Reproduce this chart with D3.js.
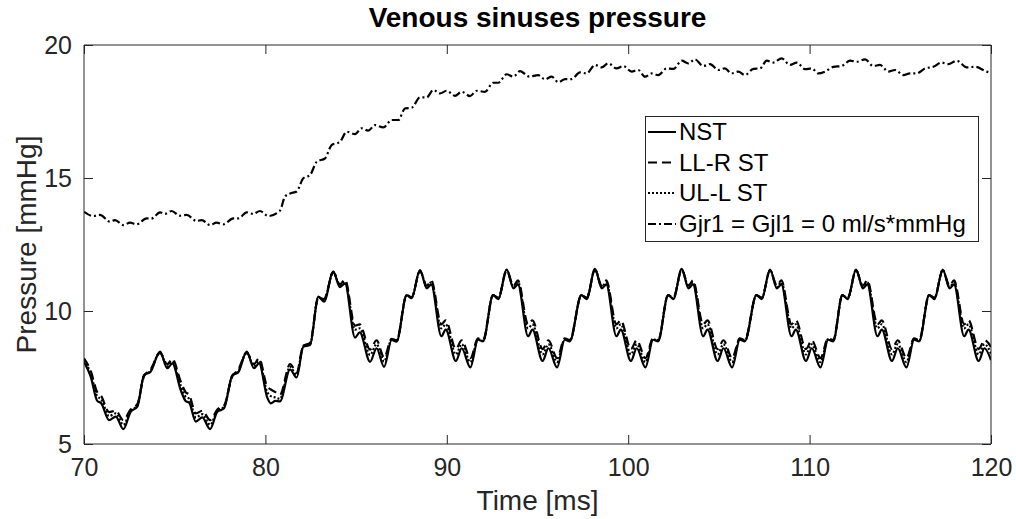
<!DOCTYPE html>
<html><head><meta charset="utf-8">
<script src="https://cdn.jsdelivr.net/npm/d3@7"></script>
<style>body{margin:0;background:#fff}svg{display:block}text{font-family:"Liberation Sans",Arial,sans-serif}</style>
</head><body>
<svg id="c" width="1016" height="519"></svg>
<script>
// ---- data ----
const xTicks = [70, 80, 90, 100, 110, 120];
const yTicks = [5, 10, 15, 20];
const seriesNames = ["NST", "LL-R ST", "UL-L ST", "Gjr1 = Gjl1 = 0 ml/s*mmHg"];

const timeLow = [70.0,70.37,70.73,70.95,71.38,71.75,72.17,72.57,72.94,73.31,73.67,74.19,74.59,74.87,75.33,75.6,75.8,76.16,76.52,76.95,77.35,77.72,78.18,78.49,78.97,79.37,79.65,80.1,80.3,80.55,80.8,81.36,81.72,82.09,82.46,82.92,83.23,83.74,84.11,84.39,84.94,85.2,85.77,86.13,86.54,86.96,87.23,87.79,88.06,88.52,
88.9,89.14,89.7,89.94,90.5,90.82,91.3,91.72,92.0,92.55,92.84,93.3,
93.68,93.92,94.48,94.72,95.28,95.6,96.08,96.5,96.78,97.42,97.71,98.17,
98.55,98.79,99.35,99.59,100.15,100.47,100.95,101.37,101.65,102.2,102.49,102.95,
103.33,103.57,104.13,104.37,104.93,105.25,105.73,106.15,106.43,107.07,107.36,107.82,
108.2,108.44,109.0,109.24,109.8,110.12,110.6,111.02,111.3,111.81,112.1,112.56,
112.94,113.18,113.74,113.98,114.54,114.86,115.34,115.76,116.04,116.59,116.88,117.34,
117.72,117.96,118.52,118.76,119.32,119.64,120.0];

const nst = [8.09,7.53,6.62,6.53,5.9,6.03,5.56,6.21,6.4,7.59,7.72,8.47,7.85,8.03,7.03,6.62,6.55,5.84,6.0,5.56,6.21,6.34,7.59,7.68,8.47,7.85,8.03,6.75,6.53,6.62,6.6,7.8,7.5,8.66,8.72,10.54,10.35,11.48,10.9,11.03,9.0,9.2,8.09,8.6,7.9,8.91,8.85,10.6,10.48,11.54,
10.85,11.0,9.05,9.3,8.12,8.6,7.88,8.92,8.86,10.6,10.45,11.56,
10.85,11.0,9.05,9.3,8.12,8.6,7.88,8.92,8.86,10.6,10.45,11.58,
10.85,11.0,9.05,9.3,8.12,8.6,7.88,8.92,8.86,10.6,10.45,11.58,
10.85,11.0,9.05,9.3,8.12,8.6,7.88,8.92,8.86,10.6,10.45,11.56,
10.85,11.0,9.05,9.3,8.12,8.6,7.88,8.92,8.86,10.6,10.45,11.56,
10.85,11.0,9.05,9.3,8.12,8.6,7.88,8.92,8.86,10.6,10.45,11.56,
10.85,11.0,9.05,9.3,8.12,8.6,8.15];

const llr = [8.22,7.75,6.95,6.8,6.2,6.25,5.9,6.3,6.5,7.55,7.8,8.42,8.0,8.2,7.35,6.95,6.85,6.15,6.25,5.9,6.3,6.45,7.55,7.78,8.42,8.0,8.22,7.15,7.05,6.95,6.85,8.0,7.7,8.7,8.8,10.5,10.45,11.45,11.0,11.18,9.45,9.5,8.55,8.9,8.25,8.95,8.9,10.6,10.52,11.5,
10.95,11.15,9.5,9.65,8.57,8.9,8.23,8.97,8.91,10.6,10.5,11.52,
10.95,11.15,9.5,9.65,8.57,8.9,8.23,8.97,8.91,10.6,10.5,11.54,
10.95,11.15,9.5,9.65,8.57,8.9,8.23,8.97,8.91,10.6,10.5,11.54,
10.95,11.15,9.5,9.65,8.57,8.9,8.23,8.97,8.91,10.6,10.5,11.52,
10.95,11.15,9.5,9.65,8.57,8.9,8.23,8.97,8.91,10.6,10.5,11.52,
10.95,11.15,9.5,9.65,8.57,8.9,8.23,8.97,8.91,10.6,10.5,11.52,
10.95,11.15,9.5,9.65,8.57,8.9,8.65];

const ull = [8.15,7.65,6.8,6.68,6.05,6.15,5.72,6.25,6.45,7.57,7.75,8.45,7.92,8.1,7.2,6.78,6.7,6.0,6.12,5.72,6.25,6.4,7.57,7.72,8.45,7.92,8.12,6.95,6.8,6.75,6.7,7.9,7.6,8.68,8.75,10.52,10.4,11.47,10.95,11.1,9.3,9.35,8.35,8.75,8.1,8.93,8.87,10.6,10.5,11.52,
10.9,11.08,9.35,9.5,8.37,8.75,8.08,8.94,8.88,10.6,10.47,11.54,
10.9,11.08,9.35,9.5,8.37,8.75,8.08,8.94,8.88,10.6,10.47,11.56,
10.9,11.08,9.35,9.5,8.37,8.75,8.08,8.94,8.88,10.6,10.47,11.56,
10.9,11.08,9.35,9.5,8.37,8.75,8.08,8.94,8.88,10.6,10.47,11.54,
10.9,11.08,9.35,9.5,8.37,8.75,8.08,8.94,8.88,10.6,10.47,11.54,
10.9,11.08,9.35,9.5,8.37,8.75,8.08,8.94,8.88,10.6,10.47,11.54,
10.9,11.08,9.35,9.5,8.37,8.75,8.4];

const timeTop = [70.0,70.51,70.88,71.43,71.71,72.17,72.54,72.9,73.45,73.73,74.19,74.47,74.83,75.29,75.66,76.21,76.49,76.95,77.31,77.68,78.23,78.51,78.97,79.33,79.7,80.16,80.8,81.08,81.36,81.72,82.09,82.46,82.83,83.29,83.65,84.11,84.48,84.94,85.31,85.67,86.04,86.5,86.96,87.33,87.7,88.06,88.52,88.89,89.26,89.63,89.99,90.45,90.82,91.28,91.65,92.1,92.56,92.84,93.3,93.67,94.04,94.55,95.04,95.41,95.78,96.15,96.52,96.88,97.34,97.71,98.17,98.54,98.9,99.36,99.73,100.19,100.55,100.93,101.3,101.66,102.12,102.49,102.95,103.31,103.68,104.14,104.51,104.97,105.33,105.7,106.07,106.44,106.9,107.27,107.64,108.0,108.46,108.92,109.29,109.75,110.12,110.48,110.85,111.31,111.77,112.23,112.6,113.06,113.51,113.88,114.34,114.71,115.17,115.53,115.9,116.36,116.82,117.28,117.65,118.11,118.66,119.12,119.76,120.0];

const gZero = [13.73,13.57,13.61,13.36,13.42,13.23,13.32,13.26,13.48,13.48,13.71,13.65,13.76,13.58,13.61,13.38,13.42,13.23,13.32,13.26,13.48,13.48,13.71,13.65,13.76,13.57,13.77,14.3,14.42,14.49,14.99,15.11,15.61,15.74,16.24,16.36,16.74,16.65,16.87,16.78,16.99,16.9,17.18,17.18,17.62,17.64,18.03,18.03,18.31,18.18,18.28,18.09,18.24,18.08,18.28,18.24,18.58,18.58,18.9,18.81,19.02,18.81,18.87,18.71,18.81,18.6,18.72,18.72,18.97,18.93,19.25,19.16,19.31,19.12,19.21,19.0,19.06,18.81,18.93,18.87,19.12,19.1,19.41,19.31,19.46,19.21,19.28,19.06,19.12,18.93,19.0,18.87,19.1,19.12,19.41,19.34,19.5,19.25,19.34,19.09,19.12,18.93,19.0,19.18,19.21,19.41,19.37,19.46,19.21,19.25,19.0,19.06,18.87,18.93,18.93,19.12,19.18,19.34,19.28,19.41,19.16,19.18,19.0,18.95];

// ---- chart ----
const svg = d3.select("#c");
const L = 84, R = 991, T = 45, B = 444;
const x = d3.scaleLinear().domain([70, 120]).range([L, R]);
const y = d3.scaleLinear().domain([5, 20]).range([B, T]);
const axisCol = "#262626";

const styles = [
  {dash: null},
  {dash: "9,5"},
  {dash: "2,2"},
  {dash: "8,3,2,3"}
];
const series = [
  {t: timeLow, v: nst},
  {t: timeLow, v: llr},
  {t: timeLow, v: ull},
  {t: timeTop, v: gZero}
];

svg.append("clipPath").attr("id","pc").append("rect")
  .attr("x", L).attr("y", T).attr("width", R-L).attr("height", B-T);

const line = d3.line().x(d => x(d[0])).y(d => y(d[1])).curve(d3.curveMonotoneX);
const g = svg.append("g").attr("clip-path","url(#pc)");
series.forEach((s, i) => {
  const pts = s.t.map((t, k) => [t, s.v[k]]);
  g.append("path").attr("d", line(pts)).attr("fill","none")
    .attr("stroke","#000").attr("stroke-width", 2.2)
    .attr("stroke-dasharray", styles[i].dash);
});

// axes
const fs = 25;
const xb = svg.append("g").attr("transform",`translate(0,${B})`)
  .call(d3.axisBottom(x).tickValues(xTicks).tickSize(-9).tickPadding(14).tickFormat(d3.format("d")));
const xt = svg.append("g").attr("transform",`translate(0,${T})`)
  .call(d3.axisTop(x).tickValues(xTicks).tickSize(-9).tickFormat(""));
const yl = svg.append("g").attr("transform",`translate(${L},0)`)
  .call(d3.axisLeft(y).tickValues(yTicks).tickSize(-9).tickPadding(12).tickFormat(d3.format("d")));
const yr = svg.append("g").attr("transform",`translate(${R},0)`)
  .call(d3.axisRight(y).tickValues(yTicks).tickSize(-9).tickFormat(""));
[xb, xt, yl, yr].forEach(a => {
  a.select(".domain").attr("stroke", axisCol).attr("stroke-width", 1);
  a.selectAll(".tick line").attr("stroke", axisCol).attr("stroke-width", 1);
  a.selectAll("text").attr("fill", axisCol).style("font-size", fs + "px")
    .style("font-family", '"Liberation Sans",Arial,sans-serif');
});
[xb, xt].forEach(a => a.select(".domain").attr("d", `M${L},0H${R}`));
[yl, yr].forEach(a => a.select(".domain").attr("d", `M0,${T}V${B}`));

svg.append("text").attr("x", (L+R)/2).attr("y", 510).attr("text-anchor","middle")
  .attr("fill", axisCol).style("font-size","28px").text("Time [ms]");
svg.append("text").attr("transform", `translate(36,${(T+B)/2}) rotate(-90)`)
  .attr("text-anchor","middle").attr("fill", axisCol).style("font-size","28px").text("Pressure [mmHg]");
svg.append("text").attr("x", (L+R)/2).attr("y", 27).attr("text-anchor","middle")
  .attr("fill","#000").style("font-size","28px").style("font-weight","bold").text("Venous sinuses pressure");

// legend
const lg = svg.append("g");
lg.append("rect").attr("x", 645.5).attr("y", 116.5).attr("width", 333).attr("height", 125)
  .attr("fill","#fff").attr("stroke", axisCol).attr("stroke-width", 1);
const rowY = [132, 162.5, 193, 224];
seriesNames.forEach((n, i) => {
  lg.append("line").attr("x1", 648).attr("x2", 676).attr("y1", rowY[i]).attr("y2", rowY[i])
    .attr("stroke","#000").attr("stroke-width", 2).attr("stroke-dasharray", styles[i].dash);
  lg.append("text").attr("x", 679).attr("y", rowY[i]).attr("dy","0.35em")
    .attr("fill","#000").style("font-size","24px").text(n);
});
</script>
</body></html>
